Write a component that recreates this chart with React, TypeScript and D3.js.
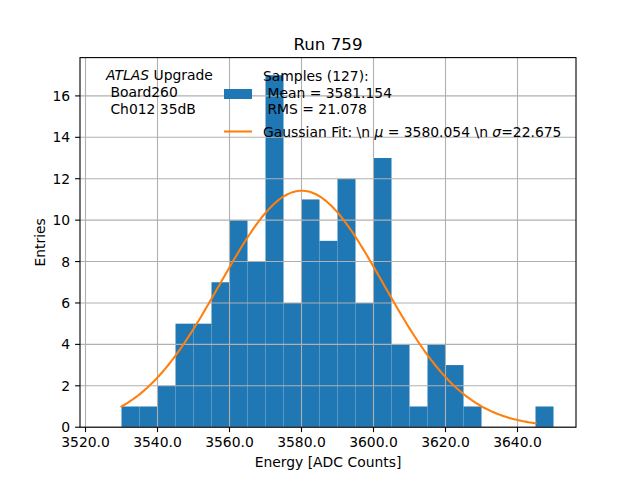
import * as d3 from "d3"

// histogram bins (5 ADC counts wide) and their counts
const binEdges = [
  3530, 3535, 3540, 3545, 3550, 3555, 3560, 3565, 3570, 3575, 3580, 3585, 3590,
  3595, 3600, 3605, 3610, 3615, 3620, 3625, 3630, 3635, 3640, 3645, 3650,
]
const counts = [1, 1, 2, 5, 5, 7, 10, 8, 17, 6, 11, 9, 12, 6, 13, 4, 1, 4, 3, 1, 0, 0, 0, 1]

const xTicks = [3520, 3540, 3560, 3580, 3600, 3620, 3640]
const yTicks = [0, 2, 4, 6, 8, 10, 12, 14, 16]

// gaussian fit parameters (from the legend)
const fitMu = 3580.054
const fitSigma = 22.675
const fitAmplitude = 11.42
const fitRange = [3530, 3645]

const W = 640
const H = 480
const margin = { left: 80, right: 64, top: 57.6, bottom: 52.8 }
const font = "DejaVu Sans, sans-serif"

export default function App() {
  const x = d3
    .scaleLinear()
    .domain([3518.47, 3656.25])
    .range([margin.left, W - margin.right])
  const y = d3
    .scaleLinear()
    .domain([0, 17.85])
    .range([H - margin.bottom, margin.top])

  const x0 = margin.left
  const x1 = W - margin.right
  const y0 = H - margin.bottom
  const y1 = margin.top

  const bins = counts.map((c, i) => ({ lo: binEdges[i], hi: binEdges[i + 1], c }))

  const fitX = d3.range(fitRange[0], fitRange[1] + 0.01, 0.5)
  const fitLine = d3
    .line<number>()
    .x((d) => x(d))
    .y((d) => y(fitAmplitude * Math.exp(-((d - fitMu) ** 2) / (2 * fitSigma ** 2))))

  return (
    <svg
      width={W}
      height={H}
      style={{ position: "absolute", left: 0, top: 0, background: "#fff" }}
      fontFamily={font}
    >
      {/* bars */}
      {bins
        .filter((b) => b.c > 0)
        .map((b, i) => (
          <rect
            key={i}
            x={x(b.lo)}
            y={y(b.c)}
            width={x(b.hi) - x(b.lo)}
            height={y(0) - y(b.c)}
            fill="#1f77b4"
          />
        ))}

      {/* grid */}
      {xTicks.map((t) => (
        <line key={"gx" + t} x1={x(t)} x2={x(t)} y1={y0} y2={y1} stroke="#b0b0b0" strokeWidth={1.1} />
      ))}
      {yTicks.map((t) => (
        <line key={"gy" + t} x1={x0} x2={x1} y1={y(t)} y2={y(t)} stroke="#b0b0b0" strokeWidth={1.1} />
      ))}

      {/* fit */}
      <path d={fitLine(fitX) ?? ""} fill="none" stroke="#ff7f0e" strokeWidth={2.08} strokeLinecap="square" />

      {/* spines */}
      <rect x={x0} y={y1} width={x1 - x0} height={y0 - y1} fill="none" stroke="#000" strokeWidth={1.1} />

      {/* x ticks */}
      {xTicks.map((t) => (
        <g key={"tx" + t}>
          <line x1={x(t)} x2={x(t)} y1={y0} y2={y0 + 4.9} stroke="#000" strokeWidth={1.1} />
          <text x={x(t)} y={y0 + 20} textAnchor="middle" fontSize={13.9}>
            {t.toFixed(1)}
          </text>
        </g>
      ))}
      {/* y ticks */}
      {yTicks.map((t) => (
        <g key={"ty" + t}>
          <line x1={x0 - 4.9} x2={x0} y1={y(t)} y2={y(t)} stroke="#000" strokeWidth={1.1} />
          <text x={x0 - 9.8} y={y(t) + 5} textAnchor="end" fontSize={13.9}>
            {t}
          </text>
        </g>
      ))}

      <text x={(x0 + x1) / 2} y={467} textAnchor="middle" fontSize={13.9}>
        Energy [ADC Counts]
      </text>
      <text transform={`translate(45,${(y0 + y1) / 2}) rotate(-90)`} textAnchor="middle" fontSize={13.9}>
        Entries
      </text>
      <text x={(x0 + x1) / 2} y={49.5} textAnchor="middle" fontSize={16.7}>
        Run 759
      </text>

      {/* annotation */}
      <text fontSize={13.9} xmlSpace="preserve">
        <tspan x={106} y={80}>
          <tspan fontStyle="italic">ATLAS</tspan> Upgrade
        </tspan>
        <tspan x={106} y={97}>
          {" Board260"}
        </tspan>
        <tspan x={106} y={114}>
          {" Ch012 35dB"}
        </tspan>
      </text>

      {/* legend */}
      <rect x={224} y={89} width={28} height={10} fill="#1f77b4" />
      <line x1={224} x2={252} y1={131.5} y2={131.5} stroke="#ff7f0e" strokeWidth={2.08} />
      <text fontSize={13.9} xmlSpace="preserve">
        <tspan x={263} y={81}>
          Samples (127):
        </tspan>
        <tspan x={263} y={97.5}>
          {" Mean = 3581.154"}
        </tspan>
        <tspan x={263} y={114}>
          {" RMS = 21.078"}
        </tspan>
        <tspan x={263} y={136.5}>
          {"Gaussian Fit: \\n "}
          <tspan fontStyle="italic">μ</tspan>
          {" = 3580.054 \\n "}
          <tspan fontStyle="italic">σ</tspan>
          {"=22.675"}
        </tspan>
      </text>
    </svg>
  )
}
